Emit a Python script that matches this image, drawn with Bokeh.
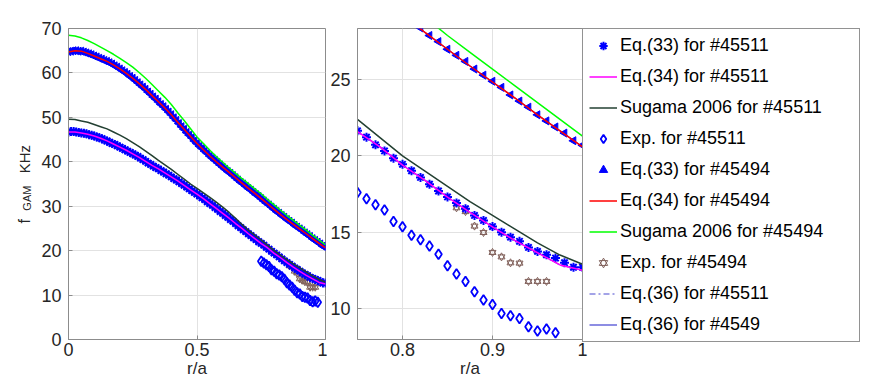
import math
import numpy as np
from bokeh.plotting import figure
from bokeh.models import (Range1d, FixedTicker, Legend, LegendItem,
                          ColumnDataSource)
from bokeh.core.properties import value
from bokeh.layouts import row
from bokeh.embed import file_html
from bokeh.resources import INLINE

# ---------------- data ----------------
r_line = np.linspace(0.0, 1.0, 41)      # grid of the model curves
r_pts = np.round(np.linspace(0.0, 1.0, 101), 2)  # grid of Eq.(33) markers

eq34_45511 = [46.7, 46.7, 46.5, 46.2, 45.8, 45.3, 44.7, 44.0, 43.3, 42.6,
              41.8, 41.0, 40.1, 39.2, 38.4, 37.5, 36.6, 35.7, 34.7, 33.7,
              32.7, 31.7, 30.6, 29.5, 28.4, 27.3, 26.1, 25.0, 23.8, 22.7,
              21.6, 20.6, 19.4, 18.4, 17.3, 16.3, 15.35, 14.45, 13.65, 12.85,
              12.5]
sugama_45511 = [49.6, 49.5, 49.2, 48.9, 48.4, 47.9, 47.4, 46.7, 46.0, 45.2,
                44.3, 43.4, 42.4, 41.4, 40.3, 39.3, 38.3, 37.2, 36.1, 35.0,
                34.0, 33.0, 32.0, 30.9, 29.8, 28.6, 27.3, 25.9, 24.6, 23.5,
                22.4, 21.2, 20.0, 19.0, 18.0, 17.0, 16.1, 15.2, 14.3, 13.5,
                12.9]
eq34_45494 = [64.7, 65.0, 64.9, 64.4, 63.8, 63.2, 62.6, 61.8, 60.9, 59.9,
              58.8, 57.6, 56.3, 54.9, 53.5, 52.1, 50.6, 48.9, 47.3, 45.7,
              44.1, 42.7, 41.3, 40.0, 38.8, 37.6, 36.4, 35.2, 34.0, 32.9,
              31.7, 30.5, 29.3, 28.1, 27.0, 25.9, 24.85, 23.8, 22.7, 21.65,
              20.6]
sugama_45494 = [68.5, 68.3, 67.9, 67.3, 66.6, 65.8, 65.0, 64.2, 63.3, 62.3,
                61.3, 60.1, 58.8, 57.4, 55.95, 54.5, 52.9, 51.05, 49.3, 47.45,
                45.6, 44.1, 42.6, 41.2, 39.9, 38.6, 37.4, 36.2, 35.1, 33.9,
                32.8, 31.5, 30.3, 29.1, 27.9, 26.8, 25.7, 24.6, 23.5, 22.4,
                21.3]
eq36_45511 = eq34_45511
eq36_4549 = eq34_45494

eq33_45511 = [46.7, 46.8, 46.8, 46.7, 46.6, 46.5, 46.4, 46.3, 46.1, 46.0,
              45.8, 45.6, 45.4, 45.2, 44.9, 44.7, 44.4, 44.1, 43.9, 43.6,
              43.3, 43.0, 42.7, 42.4, 42.1, 41.8, 41.5, 41.2, 40.8, 40.5,
              40.1, 39.7, 39.4, 39.0, 38.7, 38.4, 38.0, 37.7, 37.3, 37.0,
              36.6, 36.2, 35.9, 35.5, 35.1, 34.7, 34.3, 33.9, 33.5, 33.1,
              32.7, 32.3, 31.9, 31.5, 31.0, 30.6, 30.2, 29.7, 29.3, 28.8,
              28.4, 27.9, 27.5, 27.0, 26.6, 26.1, 25.6, 25.2, 24.7, 24.3,
              23.8, 23.4, 22.9, 22.5, 22.0, 21.65, 21.23, 20.73, 20.33, 19.85,
              19.45, 19.03, 18.59, 18.15, 17.7, 17.31, 16.92, 16.54, 16.1, 15.77,
              15.37, 15.0, 14.67, 14.4, 14.0, 13.74, 13.52, 13.3, 13.0, 12.7,
              12.7]
eq33_45494 = [64.8, 64.9, 65.0, 65.0, 64.9, 64.9, 64.7, 64.5, 64.3, 64.1,
              63.8, 63.6, 63.3, 63.1, 62.8, 62.6, 62.3, 62.0, 61.6, 61.3,
              60.9, 60.5, 60.1, 59.7, 59.2, 58.8, 58.3, 57.8, 57.3, 56.8,
              56.3, 55.7, 55.2, 54.6, 54.1, 53.5, 52.9, 52.4, 51.8, 51.2,
              50.6, 49.9, 49.3, 48.6, 47.9, 47.3, 46.6, 46.0, 45.4, 44.7,
              44.1, 43.5, 43.0, 42.4, 41.9, 41.3, 40.8, 40.3, 39.8, 39.3,
              38.8, 38.3, 37.8, 37.4, 36.9, 36.4, 35.9, 35.4, 35.0, 34.5,
              34.0, 33.6, 33.1, 32.6, 32.2, 31.7, 31.2, 30.7, 30.3, 29.8,
              29.3, 28.8, 28.4, 27.9, 27.5, 27.0, 26.6, 26.2, 25.7, 25.3,
              24.9, 24.5, 24.0, 23.6, 23.2, 22.7, 22.3, 21.9, 21.5, 21.0,
              20.7]

exp_r_45511 = [0.75, 0.76, 0.77, 0.78, 0.79, 0.80, 0.81, 0.82, 0.83, 0.84, 0.85,
               0.86, 0.87, 0.88, 0.89, 0.90, 0.91, 0.92, 0.93, 0.94, 0.95, 0.96, 0.97]
exp_45511 = [17.6, 17.2, 16.8, 16.45, 15.7, 15.35, 14.8, 14.5, 14.1, 13.55, 12.8,
             12.25, 11.77, 11.1, 10.55, 10.25, 9.67, 9.52, 9.34, 8.8, 8.52, 8.65, 8.4]
exp_r_45494 = [0.86, 0.87, 0.88, 0.89, 0.90, 0.91, 0.92, 0.93, 0.94, 0.95, 0.96]
exp_45494 = [16.6, 16.35, 15.4, 14.98, 13.67, 13.38, 12.99, 12.97, 11.77, 11.77, 11.77]

labels = ["Eq.(33) for #45511", "Eq.(34) for #45511", "Sugama 2006 for #45511",
          "Exp. for #45511", "Eq.(33) for #45494", "Eq.(34) for #45494",
          "Sugama 2006 for #45494", "Exp. for #45494", "Eq.(36) for #45511",
          "Eq.(36) for #4549"]

x_title = "r/a"
y_title_parts = ["f", "GAM", "KHz"]

# ---------------- styling ----------------
FONT = "Liberation Sans"
AX = "#8c8c8c"
TXT = "#262626"
BLUE = "#0000ff"
MAGENTA = "#ff00ff"
DARK = "#234032"
RED = "#ff0000"
GREEN = "#00ff00"
BROWN = "#80605a"
LAV = "#8585e0"
BLUE2 = "#4040d0"

TOP = 28
FH = 311
BOT = 43
STRIP = 36

lines_src = ColumnDataSource(dict(r=r_line, m=eq34_45511, d=sugama_45511,
                                  red=eq34_45494, g=sugama_45494,
                                  e1=eq36_45511, e2=eq36_4549))
pts_src = ColumnDataSource(dict(r=r_pts, a=eq33_45511, t=eq33_45494))
exp1_src = ColumnDataSource(dict(r=exp_r_45511, v=exp_45511))
exp2_src = ColumnDataSource(dict(r=exp_r_45494, v=exp_45494))


def draw(p):
    rr = {}
    rr["e1"] = p.line("r", "e1", source=lines_src, color=LAV, line_width=1.5,
                      line_dash="6 3 2 3")
    rr["e2"] = p.line("r", "e2", source=lines_src, color=BLUE2, line_width=1.2)
    rr["exp1"] = p.scatter("r", "v", source=exp1_src, marker="diamond", size=10,
                           fill_color=None, line_color=BLUE, line_width=1.8)
    rr["exp2a"] = p.scatter("r", "v", source=exp2_src, marker="triangle", size=7,
                            fill_color=None, line_color=BROWN, line_width=1)
    rr["exp2b"] = p.scatter("r", "v", source=exp2_src, marker="inverted_triangle",
                            size=7, fill_color=None, line_color=BROWN, line_width=1)
    rr["tri"] = p.scatter("r", "t", source=pts_src, marker="triangle", size=8,
                          angle=math.pi / 2, fill_color=BLUE, line_color=BLUE,
                          line_width=1)
    rr["ast"] = p.scatter("r", "a", source=pts_src, marker="asterisk", size=9,
                          line_color=BLUE, line_width=2)
    rr["g"] = p.line("r", "g", source=lines_src, color=GREEN, line_width=1.5)
    rr["d"] = p.line("r", "d", source=lines_src, color=DARK, line_width=1.5)
    rr["red"] = p.line("r", "red", source=lines_src, color=RED, line_width=1.5)
    rr["m"] = p.line("r", "m", source=lines_src, color=MAGENTA, line_width=1.5)
    return rr


def style(p, xticks, yticks, xover):
    p.outline_line_color = AX
    p.outline_line_width = 1
    for ax in (p.xaxis[0], p.yaxis[0]):
        ax.axis_line_color = AX
        ax.major_tick_line_color = AX
        ax.major_tick_in = 4
        ax.major_tick_out = 0
        ax.minor_tick_line_color = None
        ax.major_label_text_font = FONT
        ax.major_label_text_font_size = "18px"
        ax.major_label_text_color = TXT
    p.xaxis.ticker = FixedTicker(ticks=xticks)
    p.yaxis.ticker = FixedTicker(ticks=yticks)
    p.xaxis.major_label_overrides = xover
    p.xaxis.major_label_standoff = 3
    p.yaxis.major_label_standoff = 7
    p.xaxis.axis_label = x_title
    p.xaxis.axis_label_standoff = 0
    p.xaxis.axis_label_text_font = FONT
    p.xaxis.axis_label_text_font_size = "17px"
    p.xaxis.axis_label_text_font_style = "normal"
    p.xaxis.axis_label_text_color = TXT
    p.grid.grid_line_color = "#e2e2e2"
    p.grid.grid_line_width = 1


common = dict(output_backend="svg", toolbar_location=None, frame_height=FH,
              min_border_top=TOP, min_border_bottom=BOT,
              background_fill_color="white", border_fill_color="white")

# strip holding the rotated y-axis title (x measured in pixels of the strip)
p0 = figure(frame_width=STRIP, x_range=Range1d(0, STRIP), y_range=Range1d(0, 70),
            min_border_left=0, min_border_right=0, x_axis_type=None,
            y_axis_type=None, **common)
p0.outline_line_color = None
tkw = dict(angle=math.pi / 2, text_font=value(FONT), text_color=TXT,
           text_align="left", text_baseline="alphabetic")
p0.text(x=[24], y=[26.1], text=[y_title_parts[0]], text_font_size="16px", **tkw)
p0.text(x=[26.5], y=[29.0], text=[y_title_parts[1]], text_font_size="11px", **tkw)
p0.text(x=[24], y=[37.4], text=[y_title_parts[2]], text_font_size="15px", **tkw)

p1 = figure(frame_width=257, x_range=Range1d(0, 1), y_range=Range1d(0, 70),
            min_border_left=68 - STRIP, min_border_right=2, **common)
draw(p1)
style(p1, [0, 0.5, 1], [0, 10, 20, 30, 40, 50, 60, 70],
      {0: "0", 0.5: "0.5", 1: "1"})

p2 = figure(frame_width=225, x_range=Range1d(0.75, 1), y_range=Range1d(7.96, 28.36),
            min_border_left=30, min_border_right=0, **common)
rr = draw(p2)
style(p2, [0.8, 0.9, 1], [10, 15, 20, 25], {0.8: "0.8", 0.9: "0.9", 1: "1"})

items = [
    LegendItem(label=labels[0], renderers=[rr["ast"]]),
    LegendItem(label=labels[1], renderers=[rr["m"]]),
    LegendItem(label=labels[2], renderers=[rr["d"]]),
    LegendItem(label=labels[3], renderers=[rr["exp1"]]),
    LegendItem(label=labels[4], renderers=[rr["tri"]]),
    LegendItem(label=labels[5], renderers=[rr["red"]]),
    LegendItem(label=labels[6], renderers=[rr["g"]]),
    LegendItem(label=labels[7], renderers=[rr["exp2a"], rr["exp2b"]]),
    LegendItem(label=labels[8], renderers=[rr["e1"]]),
    LegendItem(label=labels[9], renderers=[rr["e2"]]),
]
legend = Legend(items=items, location="top_left", margin=0, padding=6, spacing=10,
                glyph_width=28, glyph_height=21, label_height=21, label_width=233,
                label_standoff=3, border_line_color="#262626", border_line_width=1,
                label_text_font=FONT, label_text_font_size="18px",
                label_text_color="black", background_fill_color="white",
                background_fill_alpha=1)
p2.add_layout(legend, "right")

layout = row(p0, p1, p2)
open("out.html", "w").write(file_html(layout, INLINE))
